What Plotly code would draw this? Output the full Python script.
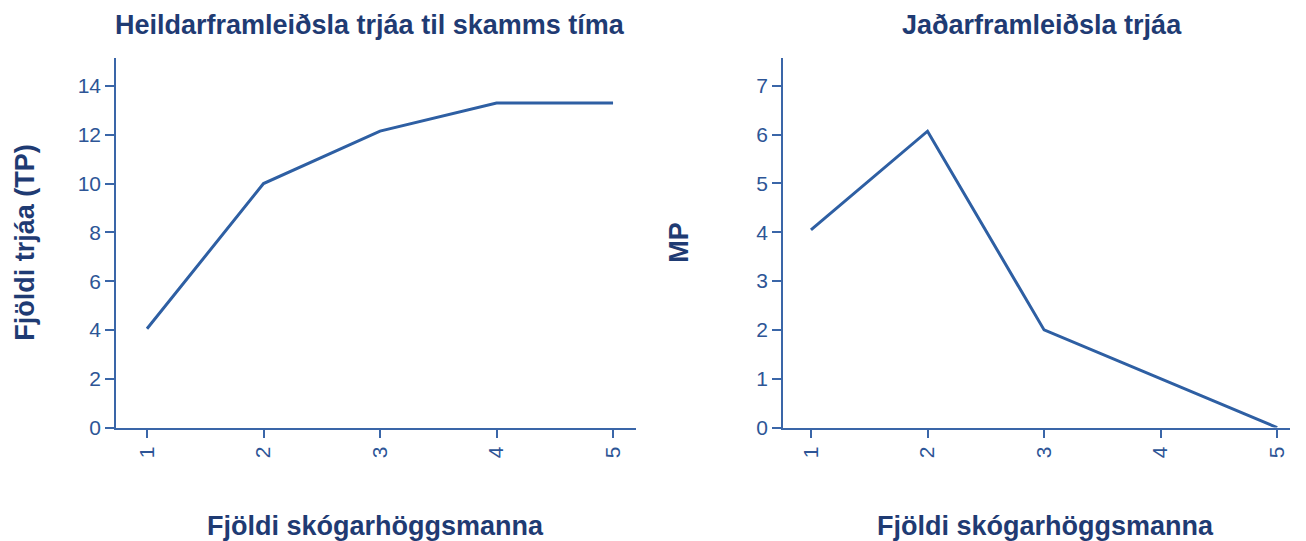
import plotly.graph_objects as go
from plotly.subplots import make_subplots

# Data
workers = [1, 2, 3, 4, 5]
total_product = [4.05, 10.0, 12.15, 13.3, 13.3]
marginal_product = [4.05, 6.07, 2.0, 1.0, 0.0]

left_title = "Heildarframleiðsla trjáa til skamms tíma"
right_title = "Jaðarframleiðsla trjáa"
x_label = "Fjöldi skógarhöggsmanna"
left_y_label = "Fjöldi trjáa (TP)"
right_y_label = "MP"

line_color = "#2e5fa3"
axis_color = "#3a66a8"
tick_color = "#2d5596"
title_color = "#1f3b73"
font_family = "Liberation Sans, Arial, sans-serif"

W, H = 1290, 541


# map screen pixels (as seen in the photo) to paper coordinates
def fx(px):
    return (px - 8) / W


def fy(py):
    return 1 - ((py - 9.25) / 0.9755) / H


fig = make_subplots(rows=1, cols=2)

fig.add_trace(go.Scatter(x=workers, y=total_product, mode="lines",
                         line=dict(color=line_color, width=3)), row=1, col=1)
fig.add_trace(go.Scatter(x=workers, y=marginal_product, mode="lines",
                         line=dict(color=line_color, width=3)), row=1, col=2)

axis_common = dict(
    showgrid=False, zeroline=False, showline=True,
    linecolor=axis_color, linewidth=1.5,
    ticks="outside", ticklen=9, tickcolor=axis_color, tickwidth=1.5,
    tickfont=dict(family=font_family, size=21, color=tick_color),
)

fig.update_xaxes(**axis_common, tickvals=workers, tickangle=-90)
fig.update_yaxes(**axis_common)

ydom = [fy(427), fy(59)]
fig.update_xaxes(domain=[fx(116), fx(636)], range=[0.734, 5.197], row=1, col=1)
fig.update_xaxes(domain=[fx(783), min(1.0, fx(1290))], range=[0.76, 5.11], row=1, col=2)
fig.update_yaxes(domain=ydom, range=[0, 15.15], dtick=2, row=1, col=1)
fig.update_yaxes(domain=ydom, range=[0, 7.57], dtick=1, row=1, col=2)

title_font = dict(family=font_family, size=27, color=title_color)
texts = [
    (left_title, 370, 26, 0),
    (right_title, 1042, 26, 0),
    (x_label, 375, 525, 0),
    (x_label, 1045, 525, 0),
    (left_y_label, 25, 243, -90),
    (right_y_label, 679, 243, -90),
]
for text, px, py, angle in texts:
    fig.add_annotation(text="<b>" + text + "</b>", x=fx(px), y=fy(py),
                       xref="paper", yref="paper", showarrow=False,
                       xanchor="center", yanchor="middle", textangle=angle,
                       font=title_font)

fig.update_layout(
    width=W, height=H,
    margin=dict(l=0, r=0, t=0, b=0),
    plot_bgcolor="white", paper_bgcolor="white",
    showlegend=False,
)

fig.write_html("out.html")
